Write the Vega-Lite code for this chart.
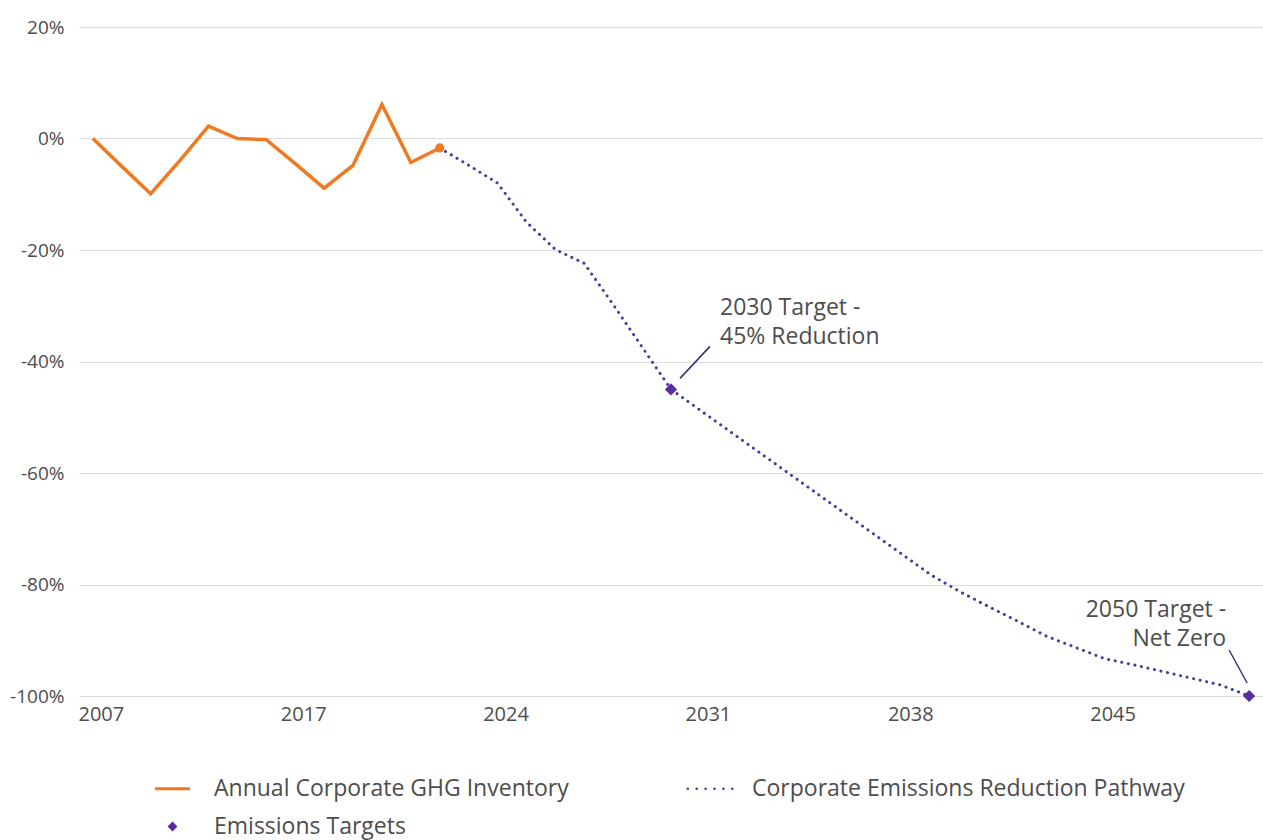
{
  "$schema": "https://vega.github.io/schema/vega-lite/v6.json",
  "width": 1184,
  "height": 669,
  "autosize": {"type": "none"},
  "padding": {"left": 79, "top": 27, "right": 0, "bottom": 144},
  "background": "white",
  "config": {
    "view": {"stroke": null},
    "font": "Open Sans",
    "axis": {"labelFont": "Open Sans", "labelColor": "#4d4d4d"},
    "legend": {"labelFont": "Open Sans"}
  },
  "datasets": {
    "inventory": [
      {"year": "2007", "series": "Annual Corporate GHG Inventory", "value": 0},
      {"year": "2011", "series": "Annual Corporate GHG Inventory", "value": -5},
      {"year": "2012", "series": "Annual Corporate GHG Inventory", "value": -9.9},
      {"year": "2013", "series": "Annual Corporate GHG Inventory", "value": -4},
      {"year": "2014", "series": "Annual Corporate GHG Inventory", "value": 2.2},
      {"year": "2015", "series": "Annual Corporate GHG Inventory", "value": 0},
      {"year": "2016", "series": "Annual Corporate GHG Inventory", "value": -0.2},
      {"year": "2017", "series": "Annual Corporate GHG Inventory", "value": -4.5},
      {"year": "2018", "series": "Annual Corporate GHG Inventory", "value": -8.9},
      {"year": "2019", "series": "Annual Corporate GHG Inventory", "value": -4.8},
      {"year": "2020", "series": "Annual Corporate GHG Inventory", "value": 6.1},
      {"year": "2021", "series": "Annual Corporate GHG Inventory", "value": -4.3},
      {"year": "2022", "series": "Annual Corporate GHG Inventory", "value": -1.7}
    ],
    "pathway": [
      {"year": "2022", "series": "Corporate Emissions Reduction Pathway", "value": -1.7},
      {"year": "2023", "series": "Corporate Emissions Reduction Pathway", "value": -4.8},
      {"year": "2024", "series": "Corporate Emissions Reduction Pathway", "value": -8},
      {"year": "2025", "series": "Corporate Emissions Reduction Pathway", "value": -15},
      {"year": "2026", "series": "Corporate Emissions Reduction Pathway", "value": -19.9},
      {"year": "2027", "series": "Corporate Emissions Reduction Pathway", "value": -22.4},
      {"year": "2028", "series": "Corporate Emissions Reduction Pathway", "value": -29.8},
      {"year": "2029", "series": "Corporate Emissions Reduction Pathway", "value": -37.4},
      {"year": "2030", "series": "Corporate Emissions Reduction Pathway", "value": -45},
      {"year": "2031", "series": "Corporate Emissions Reduction Pathway", "value": -48.7},
      {"year": "2032", "series": "Corporate Emissions Reduction Pathway", "value": -52.4},
      {"year": "2033", "series": "Corporate Emissions Reduction Pathway", "value": -56.1},
      {"year": "2034", "series": "Corporate Emissions Reduction Pathway", "value": -59.8},
      {"year": "2035", "series": "Corporate Emissions Reduction Pathway", "value": -63.5},
      {"year": "2036", "series": "Corporate Emissions Reduction Pathway", "value": -67.2},
      {"year": "2037", "series": "Corporate Emissions Reduction Pathway", "value": -70.9},
      {"year": "2038", "series": "Corporate Emissions Reduction Pathway", "value": -74.6},
      {"year": "2039", "series": "Corporate Emissions Reduction Pathway", "value": -78.3},
      {"year": "2040", "series": "Corporate Emissions Reduction Pathway", "value": -81.3},
      {"year": "2041", "series": "Corporate Emissions Reduction Pathway", "value": -84.0},
      {"year": "2042", "series": "Corporate Emissions Reduction Pathway", "value": -86.6},
      {"year": "2043", "series": "Corporate Emissions Reduction Pathway", "value": -89.3},
      {"year": "2044", "series": "Corporate Emissions Reduction Pathway", "value": -91.3},
      {"year": "2045", "series": "Corporate Emissions Reduction Pathway", "value": -93.3},
      {"year": "2046", "series": "Corporate Emissions Reduction Pathway", "value": -94.4},
      {"year": "2047", "series": "Corporate Emissions Reduction Pathway", "value": -95.6},
      {"year": "2048", "series": "Corporate Emissions Reduction Pathway", "value": -96.8},
      {"year": "2049", "series": "Corporate Emissions Reduction Pathway", "value": -98.0},
      {"year": "2050", "series": "Corporate Emissions Reduction Pathway", "value": -100}
    ],
    "targets": [
      {"year": "2030", "series": "Emissions Targets", "value": -45, "label": "2030 Target -\n45% Reduction"},
      {"year": "2050", "series": "Emissions Targets", "value": -100, "label": "2050 Target -\nNet Zero"}
    ]
  },
  "layer": [
    {
      "data": {"name": "inventory"},
      "mark": {"type": "line", "strokeWidth": 3.5, "strokeJoin": "miter", "strokeCap": "butt"},
      "encoding": {
        "x": {
          "field": "year",
          "type": "ordinal",
          "sort": null,
          "scale": {
            "type": "point",
            "padding": 0.48,
            "domain": ["2007","2011","2012","2013","2014","2015","2016","2017","2018","2019","2020","2021","2022","2023","2024","2025","2026","2027","2028","2029","2030","2031","2032","2033","2034","2035","2036","2037","2038","2039","2040","2041","2042","2043","2044","2045","2046","2047","2048","2049","2050"]
          },
          "axis": {
            "title": null,
            "values": ["2007","2017","2024","2031","2038","2045"],
            "ticks": false,
            "domain": false,
            "grid": false,
            "labelAngle": 0,
            "labelFontSize": 20,
            "labelPadding": 8,
            "labelOffset": 8,
            "labelColor": "#4d4d4d"
          }
        },
        "y": {
          "field": "value",
          "type": "quantitative",
          "scale": {"domain": [-100, 20], "nice": false, "zero": false},
          "axis": {
            "title": null,
            "values": [-100, -80, -60, -40, -20, 0, 20],
            "labelExpr": "datum.value + '%'",
            "ticks": false,
            "domain": false,
            "grid": true,
            "gridColor": "#dcdcdc",
            "gridWidth": 1.2,
            "labelFontSize": 19,
            "labelPadding": 15,
            "labelColor": "#4d4d4d"
          }
        },
        "color": {
          "field": "series",
          "type": "nominal",
          "scale": {
            "domain": ["Annual Corporate GHG Inventory", "Emissions Targets", "Corporate Emissions Reduction Pathway"],
            "range": ["#f07a22", "#5a2c9c", "#40409f"]
          },
          "legend": {
            "title": null,
            "orient": "none",
            "legendX": 82,
            "legendY": 750,
            "columns": 2,
            "columnPadding": 113,
            "rowPadding": 14,
            "padding": 0,
            "symbolSize": 1225,
            "symbolStrokeWidth": 3,
            "labelOffset": 30,
            "labelFontSize": 23,
            "labelColor": "#4d4d4d",
            "labelLimit": 600,
            "encode": {
              "symbols": {
                "update": {
                  "shape": {"signal": "datum.value === 'Emissions Targets' ? 'M0,-0.28L0.28,0L0,0.28L-0.28,0Z' : (datum.value === 'Corporate Emissions Reduction Pathway' ? 'M-1.3,0L1.4,0' : 'M-1,0L1,0')"},
                  "strokeDash": {"signal": "datum.value === 'Corporate Emissions Reduction Pathway' ? [0.1, 8.8] : [1, 0]"},
                  "strokeWidth": {"signal": "datum.value === 'Emissions Targets' ? 0 : (datum.value === 'Corporate Emissions Reduction Pathway' ? 2.5 : 3)"},
                  "strokeCap": {"signal": "datum.value === 'Corporate Emissions Reduction Pathway' ? 'round' : 'butt'"},
                  "fill": {"signal": "datum.value === 'Emissions Targets' ? '#5a2c9c' : 'transparent'"},
                  "stroke": {"signal": "datum.value === 'Emissions Targets' ? 'transparent' : (datum.value === 'Corporate Emissions Reduction Pathway' ? '#40409f' : '#f07a22')"},
                  "opacity": {"value": 1}
                }
              }
            }
          }
        }
      }
    },
    {
      "data": {"name": "pathway"},
      "mark": {"type": "line", "strokeWidth": 3, "strokeDash": [0.1, 6.6], "strokeCap": "round"},
      "encoding": {
        "x": {"field": "year", "type": "ordinal", "sort": null},
        "y": {"field": "value", "type": "quantitative"},
        "color": {"field": "series", "type": "nominal", "legend": null}
      }
    },
    {
      "data": {"name": "inventory"},
      "transform": [{"filter": "datum.year === '2022'"}],
      "mark": {"type": "point", "shape": "circle", "filled": true, "size": 85, "opacity": 1},
      "encoding": {
        "x": {"field": "year", "type": "ordinal", "sort": null},
        "y": {"field": "value", "type": "quantitative"},
        "color": {"field": "series", "type": "nominal", "legend": null}
      }
    },
    {
      "data": {"name": "targets"},
      "mark": {"type": "point", "shape": "diamond", "filled": true, "size": 150, "opacity": 1},
      "encoding": {
        "x": {"field": "year", "type": "ordinal", "sort": null},
        "y": {"field": "value", "type": "quantitative"},
        "color": {"field": "series", "type": "nominal", "legend": null}
      }
    },
    {
      "data": {"name": "targets"},
      "transform": [{"filter": "datum.year === '2030'"}],
      "mark": {"type": "rule", "color": "#3f2d78", "strokeWidth": 1.5, "xOffset": 9, "yOffset": -11, "x2Offset": 39, "y2Offset": -43},
      "encoding": {
        "x": {"field": "year", "type": "ordinal", "sort": null},
        "x2": {"field": "year"},
        "y": {"field": "value", "type": "quantitative"},
        "y2": {"field": "value"}
      }
    },
    {
      "data": {"name": "targets"},
      "transform": [{"filter": "datum.year === '2050'"}],
      "mark": {"type": "rule", "color": "#3f2d78", "strokeWidth": 1.5, "xOffset": -20, "yOffset": -46, "x2Offset": -2, "y2Offset": -13},
      "encoding": {
        "x": {"field": "year", "type": "ordinal", "sort": null},
        "x2": {"field": "year"},
        "y": {"field": "value", "type": "quantitative"},
        "y2": {"field": "value"}
      }
    },
    {
      "data": {"name": "targets"},
      "transform": [{"filter": "datum.year === '2030'"}],
      "mark": {"type": "text", "align": "left", "baseline": "middle", "dx": 49, "dy": -81, "fontSize": 23, "lineHeight": 29, "lineBreak": "\n", "color": "#4d4d4d", "font": "Open Sans"},
      "encoding": {
        "x": {"field": "year", "type": "ordinal", "sort": null},
        "y": {"field": "value", "type": "quantitative"},
        "text": {"field": "label"}
      }
    },
    {
      "data": {"name": "targets"},
      "transform": [{"filter": "datum.year === '2050'"}],
      "mark": {"type": "text", "align": "right", "baseline": "middle", "dx": -23, "dy": -86, "fontSize": 23, "lineHeight": 29, "lineBreak": "\n", "color": "#4d4d4d", "font": "Open Sans"},
      "encoding": {
        "x": {"field": "year", "type": "ordinal", "sort": null},
        "y": {"field": "value", "type": "quantitative"},
        "text": {"field": "label"}
      }
    }
  ]
}
